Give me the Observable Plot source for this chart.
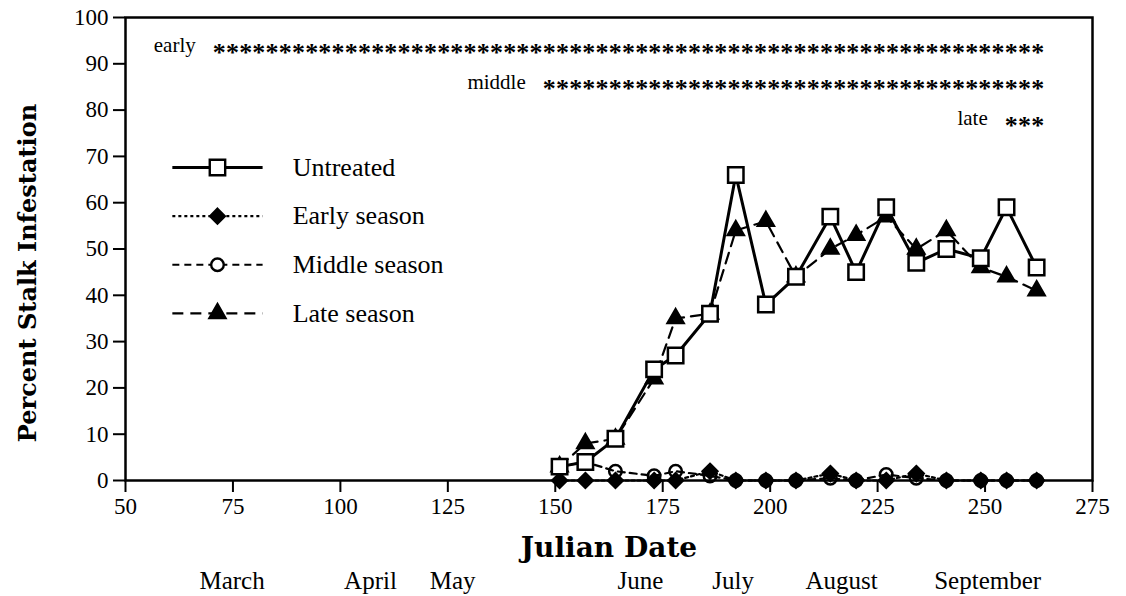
<!DOCTYPE html>
<html><head><meta charset="utf-8">
<script src="https://cdn.jsdelivr.net/npm/d3@7"></script>
<script src="https://cdn.jsdelivr.net/npm/@observablehq/plot@0.6"></script>
<style>body{margin:0;background:#fff}</style>
</head><body><div id="chart"></div>
<script>
// ---- data ----
const dates = [151,157,164,173,178,186,192,199,206,214,220,227,234,241,249,255,262];
const untreated    = [3,4,9,24,27,36,66,38,44,57,45,59,47,50,48,59,46];
const earlySeason  = [0,0,0,0,0,2,0,0,0,1.5,0,0,1.5,0,0,0,0];
const middleSeason = [3,4,2,1,2,1,0,0,0,0.5,0,1.3,0.5,0,0,0,0];
const lateSeason   = [3,8,9,22,35,36,54,56,44,50,53,57,50,54,46,44,41];
const seriesNames  = ["Untreated","Early season","Middle season","Late season"];
const xTicks = [50,75,100,125,150,175,200,225,250,275];
const yTicks = [0,10,20,30,40,50,60,70,80,90,100];
const months = ["March","April","May","June","July","August","September"];
const monthDays = [74.8,107,126.1,169.8,191.4,216.6,250.6];
const sigLabels = ["early","middle","late"];
const sigStars  = [63,38,3];

// ---- build ----
const values = [untreated, earlySeason, middleSeason, lateSeason];
const rows = seriesNames.flatMap((s,k)=>dates.map((d,i)=>({series:s, date:d, value:values[k][i]})));
const styles = {
  "Untreated":     {dash:null,   width:3,   symbol:"square",   r:8.7, fill:"white"},
  "Early season":  {dash:"3,3",  width:2.2, symbol:"diamond2", r:6.6, fill:"black"},
  "Middle season": {dash:"7,5",  width:2.2, symbol:"circle",   r:6.3, fill:"white"},
  "Late season":   {dash:"11,7", width:2.2, symbol:"triangle", r:5.9, fill:"black"}
};
const font = "Liberation Serif";
const boldFont = "DejaVu Serif";

const lineMark = s => Plot.line(rows.filter(r=>r.series===s), {x:"date", y:"value", stroke:"black",
  strokeWidth: styles[s].width, strokeDasharray: styles[s].dash});
const dotMark = (s, fill) => Plot.dot(rows.filter(r=>r.series===s), {x:"date", y:"value", symbol: styles[s].symbol,
  r: styles[s].r, fill: fill ?? styles[s].fill, stroke:"black", strokeWidth: 2.5});

// legend entries (laid out by index inside the frame)
const legend = seriesNames.map((s,i)=>({series:s, y: 67.6 - i*10.5}));
const legendMarks = seriesNames.flatMap(s=>{
  const e = legend.filter(d=>d.series===s);
  return [
    Plot.link(e, {x1:()=>60.9, x2:()=>81.9, y1:"y", y2:"y", stroke:"black", strokeWidth: styles[s].width, strokeDasharray: styles[s].dash}),
    Plot.dot(e, {x:()=>71.4, y:"y", symbol: styles[s].symbol, r: styles[s].r, fill: styles[s].fill, stroke:"black", strokeWidth:2.4})
  ];
});

// significance rows
const pitch = 13.2 * 225/967; // data units per asterisk
const sig = sigLabels.map((l,i)=>({label:l, stars:"*".repeat(sigStars[i]), y: 94 - i*7.9,
  start: 263.8 - sigStars[i]*pitch}));

const plot = Plot.plot({
  width:1126, height:596,
  marginLeft:125, marginRight:34, marginTop:17, marginBottom:116,
  style:{fontFamily:font, color:"black", background:"white"},
  x:{domain:[50,275]},
  y:{domain:[0,100]},
  marks:[
    Plot.axisX(xTicks, {tickSize:12, tickPadding:5, fontSize:23, fontFamily:font, strokeWidth:2, label:null}),
    Plot.axisY(yTicks, {tickSize:12, tickPadding:5, fontSize:23, fontFamily:font, strokeWidth:2, label:null}),
    ...["Late season","Middle season","Early season","Untreated"].map(s=>lineMark(s)),
    dotMark("Late season"), dotMark("Early season"), dotMark("Middle season", "none"), dotMark("Untreated"),
    ...legendMarks,
    Plot.text(legend, {x:()=>88.9, y:"y", text:"series", textAnchor:"start", fontSize:26, fontFamily:font, fill:"black"}),
    Plot.text(sig, {x:"start", y:"y", text:d=>d.label, textAnchor:"end", dx:-17, fontSize:21, fontFamily:font, fill:"black"}),
    Plot.text(sig, {x:"start", y:"y", text:"stars", textAnchor:"start", dy:7, fontSize:26, fontFamily:font, fontWeight:"bold", fill:"black"}),
    Plot.text(months.map((m,i)=>({m, d:monthDays[i]})), {x:"d", text:"m", frameAnchor:"bottom", lineAnchor:"middle", dy:100, fontSize:25, fontFamily:font, fill:"black"}),
    Plot.text(["Julian Date"], {frameAnchor:"bottom", lineAnchor:"middle", textAnchor:"middle", dy:68, fontSize:28, fontWeight:"bold", fontFamily:boldFont, fill:"black"}),
    Plot.text(["Percent Stalk Infestation"], {frameAnchor:"left", textAnchor:"middle", lineAnchor:"middle", dx:-97, dy:24, rotate:-90, fontSize:24, fontWeight:"bold", fontFamily:boldFont, fill:"black"}),
    Plot.frame({stroke:"black", strokeWidth:2.5})
  ]
});
d3.select(plot).selectAll("text").filter(function(){return /^\*+$/.test(this.textContent);}).attr("letter-spacing","0.2px");
document.getElementById("chart").appendChild(plot);
</script></body></html>
